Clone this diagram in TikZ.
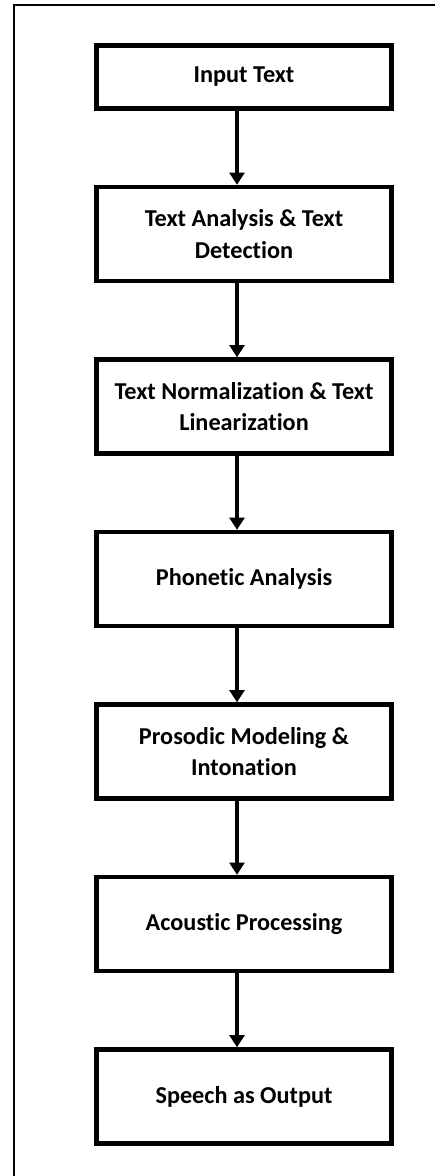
\documentclass[tikz,border=0pt]{standalone}
\usepackage{fontspec}
\setmainfont{Carlito}[Ligatures=NoCommon]
\usetikzlibrary{arrows.meta,positioning}
\def\nodesep{3.45}
\def\arrowshift{0.14}
\tikzset{
  stage/.style={
    rectangle, draw=black,
    line width=2.5pt,
    minimum width=5.9cm,
    minimum height=1.88cm,
    inner sep=0pt,
    align=center,
    font=\fontsize{13.8}{18}\selectfont\bfseries
  },
  flow/.style={->, line width=2.3pt}
}

\begin{document}
\begin{tikzpicture}[>={Triangle[length=7pt,width=8.5pt]}, node distance=\nodesep cm]
    \useasboundingbox (0,0) rectangle (8.68,-23.52);
    %% outer frame (only top and left edges show)
    \draw[line width=1.2pt] (0.28,-23.6) -- (0.28,-0.1) -- (8.8,-0.1);

    %% Stages
    \node[stage, minimum height=1.26cm] (input) at (4.88,-1.54) {Input Text};
    \node[stage, below of=input, node distance=3.14cm] (analysis) {Text Analysis \& Text\\Detection};
    \node[stage, below of=analysis] (normal) {Text Normalization \& Text\\Linearization};
    \node[stage, below of=normal] (phonetic) {Phonetic Analysis};
    \node[stage, below of=phonetic] (prosodic) {Prosodic Modeling \&\\Intonation};
    \node[stage, below of=prosodic] (acoustic) {Acoustic Processing};
    \node[stage, below of=acoustic] (speech) {Speech as Output};

    %% Edges
    \draw[flow] ([xshift=-\arrowshift cm]input.south) -- ([xshift=-\arrowshift cm]analysis.north);
    \draw[flow] ([xshift=-\arrowshift cm]analysis.south) -- ([xshift=-\arrowshift cm]normal.north);
    \draw[flow] ([xshift=-\arrowshift cm]normal.south) -- ([xshift=-\arrowshift cm]phonetic.north);
    \draw[flow] ([xshift=-\arrowshift cm]phonetic.south) -- ([xshift=-\arrowshift cm]prosodic.north);
    \draw[flow] ([xshift=-\arrowshift cm]prosodic.south) -- ([xshift=-\arrowshift cm]acoustic.north);
    \draw[flow] ([xshift=-\arrowshift cm]acoustic.south) -- ([xshift=-\arrowshift cm]speech.north);
\end{tikzpicture}
\end{document}
